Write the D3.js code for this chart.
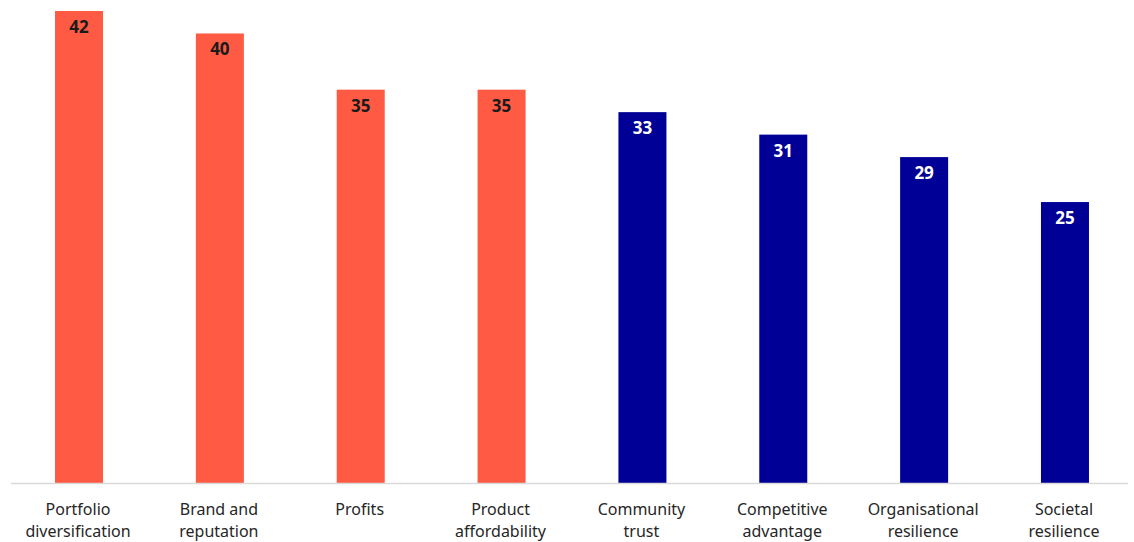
<!DOCTYPE html>
<html>
<head>
<meta charset="utf-8">
<script src="https://cdn.jsdelivr.net/npm/d3@7"></script>
<style>
  body { margin: 0; background: #fff; }
  svg text { font-family: "Noto Sans", "Open Sans", sans-serif; }
</style>
</head>
<body>
<svg id="chart"></svg>
<script>
const categories = [
  ['Portfolio', 'diversification'],
  ['Brand and', 'reputation'],
  ['Profits'],
  ['Product', 'affordability'],
  ['Community', 'trust'],
  ['Competitive', 'advantage'],
  ['Organisational', 'resilience'],
  ['Societal', 'resilience']
];
const values = [42, 40, 35, 35, 33, 31, 29, 25];
const groups = ['a', 'a', 'a', 'a', 'b', 'b', 'b', 'b'];

const
  WIDTH = 1134,
  HEIGHT = 542,
  BAR_WIDTH = 48,
  BASELINE = 483;

const colors = { a: '#ff5a44', b: '#000096' };
const labelColors = { a: '#1a1a1a', b: '#ffffff' };

const svg = d3.select('#chart')
  .attr('width', WIDTH)
  .attr('height', HEIGHT);

const xScale = d3.scaleBand()
  .domain(d3.range(values.length))
  .range([8.6, 1135.4]);

const yScale = d3.scaleLinear()
  .domain([0, 42])
  .range([BASELINE, 11]);

// bars
svg.append('g')
  .selectAll('rect')
  .data(values)
  .enter()
  .append('rect')
  .attr('x', (d, i) => xScale(i) + xScale.bandwidth() / 2 - BAR_WIDTH / 2)
  .attr('y', d => yScale(d))
  .attr('width', BAR_WIDTH)
  .attr('height', d => BASELINE - yScale(d))
  .attr('fill', (d, i) => colors[groups[i]]);

// value labels
svg.append('g')
  .selectAll('text')
  .data(values)
  .enter()
  .append('text')
  .attr('x', (d, i) => xScale(i) + xScale.bandwidth() / 2)
  .attr('y', d => yScale(d) + 22)
  .attr('text-anchor', 'middle')
  .attr('font-size', 17)
  .attr('font-weight', 'bold')
  .attr('fill', (d, i) => labelColors[groups[i]])
  .text(d => d);

// x axis line
svg.append('line')
  .attr('x1', 11)
  .attr('x2', 1128)
  .attr('y1', BASELINE + 0.5)
  .attr('y2', BASELINE + 0.5)
  .attr('stroke', '#d9d9d9')
  .attr('stroke-width', 1.5);

// category labels
const cats = svg.append('g')
  .selectAll('text')
  .data(categories)
  .enter()
  .append('text')
  .attr('text-anchor', 'middle')
  .attr('font-size', 16)
  .attr('fill', '#262626');

cats.selectAll('tspan')
  .data((d, i) => d.map(line => ({ line, i })))
  .enter()
  .append('tspan')
  .attr('x', d => xScale(d.i) + xScale.bandwidth() / 2 - 1)
  .attr('y', (d, j) => 515 + j * 22)
  .text(d => d.line);
</script>
</body>
</html>
